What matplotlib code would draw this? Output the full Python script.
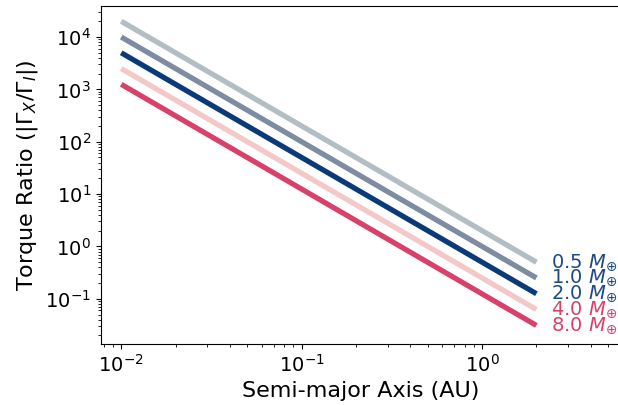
import numpy as np
import matplotlib
matplotlib.use('Agg')
import matplotlib.pyplot as plt

# planet masses (Earth masses) and torque ratio read at both ends of each line
masses = [0.5, 1.0, 2.0, 4.0, 8.0]
a_ends = [0.01, 2.0]
ratio_start = [20000, 10000, 5000, 2500, 1250]
ratio_end = [0.5, 0.25, 0.125, 0.0625, 0.031]
line_colors = ['#b3bec4', '#7d8ca0', '#0b3a78', '#f3c8c6', '#d8416a']
label_colors = ['#1d4a85', '#1d4a85', '#1d4a85', '#d8416a', '#d8416a']

fig = plt.figure(figsize=(6.18, 4.05), dpi=100)
ax = fig.add_axes([0.163, 0.151, 0.84, 0.834])

for i in range(len(masses)):
    ax.plot(a_ends, [ratio_start[i], ratio_end[i]], color=line_colors[i], lw=3.8,
            solid_capstyle='butt')
    ax.text(2.42, ratio_end[i], '%.1f $M_{\\oplus}$' % masses[i], color=label_colors[i],
            fontsize=14, va='center', ha='left')

ax.set_xscale('log')
ax.set_yscale('log')
ax.set_xlim(0.0077, 5.8)
ax.set_ylim(0.0138, 3.9e4)
ax.spines['right'].set_visible(False)
ax.tick_params(labelsize=14)
ax.set_xlabel('Semi-major Axis (AU)', fontsize=16)
ax.set_ylabel(r'Torque Ratio ($|\Gamma_X/\Gamma_I|$)', fontsize=16)

fig.savefig('out.png', dpi=100)
